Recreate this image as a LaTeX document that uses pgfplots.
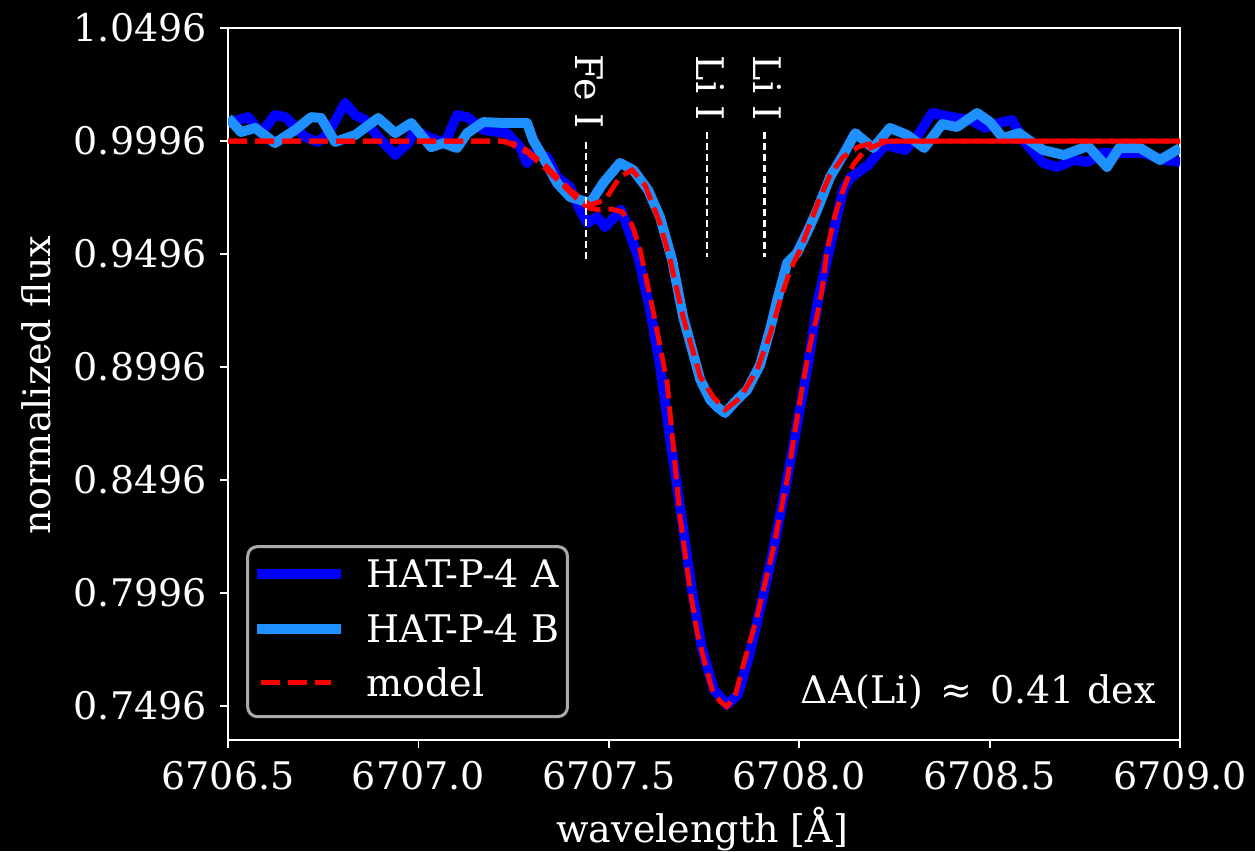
\documentclass[border=0pt]{standalone}
\usepackage{pgfplots}
\pgfplotsset{compat=1.18}
\usepackage{fontspec}
\setmainfont{DejaVu Serif}
\definecolor{specA}{RGB}{0,0,255}
\definecolor{specB}{RGB}{30,144,255}
\definecolor{modred}{RGB}{255,0,0}
\definecolor{legedge}{RGB}{170,170,170}
\pgfplotsset{
  lineimage/.style={legend image code/.code={\draw[##1] (0pt,0.8pt) -- (22pt,0.8pt);}},
  dashimage/.style={legend image code/.code={\path (0pt,0.8pt) (22pt,0.8pt); \draw[##1] (1pt,0.8pt) -- (19.3pt,0.8pt);}},
}
\begin{document}
\begin{tikzpicture}
\path[use as bounding box, fill=black] (-60pt,-29.2pt) rectangle (270.1pt,194.7pt);
\begin{axis}[
  at={(0pt,0pt)}, anchor=south west,
  scale only axis, width=250.4pt, height=187.3pt,
  xmin=6706.5, xmax=6709.0, ymin=0.7343, ymax=1.0496,
  xtick={6706.5,6707.0,6707.5,6708.0,6708.5,6709.0},
  xticklabels={6706.5,6707.0,6707.5,6708.0,6708.5,6709.0},
  ytick={0.7496,0.7996,0.8496,0.8996,0.9496,0.9996,1.0496},
  yticklabels={0.7496,0.7996,0.8496,0.8996,0.9496,0.9996,1.0496},
  scaled x ticks=false, scaled y ticks=false,
  /pgf/number format/assume math mode=true,
  xtick pos=bottom, ytick pos=left,
  tick align=outside, major tick length=2.1pt,
  axis line style={white, line width=0.5pt},
  tick style={white, line width=0.5pt},
  ticklabel style={white, font=\fontsize{10}{12}\selectfont},
  label style={white, font=\fontsize{10}{12}\selectfont},
  xlabel={wavelength [Å]},
  ylabel={normalized flux},
  xlabel style={at={(axis description cs:0.498,-0.1433)}, anchor=base},
  ylabel style={at={(axis description cs:-0.187,0.4986)}, anchor=base},
  clip mode=individual,
  legend cell align=left,
  legend style={
    at={(axis description cs:0.019,0.031)}, anchor=south west,
    fill=black, draw=legedge, line width=0.8pt, rounded corners=2.5pt,
    text=white, font=\fontsize{10}{12}\selectfont,
    inner xsep=1.2pt, inner ysep=2.3pt, row sep=2.8pt,
    nodes={inner sep=1pt, text height=7.5pt, text depth=2pt},
    /tikz/every odd column/.append style={column sep=4.5pt},
  },
  lineimage,
]
% observed spectrum, HAT-P-4 A
\addplot[specA, line width=2.6pt, line join=round] coordinates {
(6706.500,1.0076) (6706.553,1.0102) (6706.587,1.0031) (6706.623,1.0111) (6706.650,1.0102)
(6706.702,1.0014) (6706.736,0.9992) (6706.763,1.0031) (6706.807,1.0164) (6706.834,1.0111)
(6706.860,1.0089) (6706.894,1.0014) (6706.939,0.9934) (6706.973,0.9987) (6706.991,1.0045)
(6707.025,1.0014) (6707.070,0.9987) (6707.101,1.0111) (6707.128,1.0102) (6707.170,1.0045)
(6707.233,1.0031) (6707.267,0.9969) (6707.285,0.9899) (6707.301,0.9943) (6707.338,0.9925)
(6707.364,0.9837) (6707.398,0.9792) (6707.424,0.9691) (6707.443,0.9633) (6707.469,0.9660)
(6707.490,0.9615) (6707.532,0.9691) (6707.577,0.9483) (6707.608,0.9248) (6707.634,0.9005)
(6707.661,0.8673) (6707.692,0.8319) (6707.718,0.8009) (6707.745,0.7744) (6707.776,0.7567)
(6707.810,0.7500) (6707.839,0.7545) (6707.866,0.7700) (6707.897,0.7921) (6707.929,0.8164)
(6707.963,0.8452) (6707.994,0.8739) (6708.023,0.9005) (6708.049,0.9292) (6708.076,0.9492)
(6708.115,0.9779) (6708.133,0.9832) (6708.181,0.9890) (6708.225,0.9978) (6708.278,0.9956)
(6708.312,1.0023) (6708.349,1.0120) (6708.401,1.0102) (6708.449,1.0089) (6708.488,1.0054)
(6708.533,1.0080) (6708.559,1.0089) (6708.588,1.0000) (6708.640,0.9899) (6708.677,0.9881)
(6708.722,0.9912) (6708.758,0.9903) (6708.795,0.9943) (6708.850,0.9943) (6708.903,0.9943)
(6708.958,0.9912) (6709.000,0.9903)
};
\addlegendentry{HAT-P-4 A}
% observed spectrum, HAT-P-4 B
\addplot[specB, line width=2.6pt, line join=round] coordinates {
(6706.500,1.0098) (6706.534,1.0036) (6706.571,1.0054) (6706.623,0.9987) (6706.676,1.0045)
(6706.718,1.0102) (6706.744,1.0098) (6706.781,0.9992) (6706.834,1.0023) (6706.894,1.0098)
(6706.939,1.0031) (6706.981,1.0076) (6707.033,0.9969) (6707.065,0.9987) (6707.101,0.9965)
(6707.128,1.0031) (6707.170,1.0080) (6707.222,1.0076) (6707.285,1.0076) (6707.301,1.0000)
(6707.327,0.9925) (6707.364,0.9810) (6707.398,0.9748) (6707.451,0.9722) (6707.485,0.9810)
(6707.529,0.9899) (6707.564,0.9868) (6707.603,0.9779) (6707.634,0.9660) (6707.666,0.9469)
(6707.695,0.9217) (6707.740,0.8939) (6707.766,0.8850) (6707.787,0.8815) (6707.805,0.8792)
(6707.831,0.8841) (6707.863,0.8894) (6707.897,0.9005) (6707.923,0.9160) (6707.942,0.9292)
(6707.968,0.9456) (6707.994,0.9500) (6708.021,0.9593) (6708.047,0.9691) (6708.081,0.9837)
(6708.115,0.9934) (6708.147,1.0031) (6708.194,0.9965) (6708.238,1.0054) (6708.283,1.0023)
(6708.328,0.9965) (6708.375,1.0071) (6708.414,1.0058) (6708.467,1.0120) (6708.501,1.0080)
(6708.535,1.0009) (6708.577,1.0031) (6708.640,0.9956) (6708.695,0.9934) (6708.758,0.9974)
(6708.808,0.9881) (6708.840,0.9965) (6708.895,0.9965) (6708.947,0.9912) (6709.000,0.9965)
};
\addlegendentry{HAT-P-4 B}
% model, A
\addplot[modred, line width=1.3pt, dash pattern=on 5pt off 2.1pt, dashimage] coordinates {
(6706.500,0.9996) (6707.227,0.9996) (6707.288,0.9943) (6707.332,0.9877) (6707.374,0.9810)
(6707.411,0.9748) (6707.445,0.9700) (6707.477,0.9691) (6707.506,0.9695) (6707.535,0.9682)
(6707.561,0.9624) (6707.582,0.9514) (6707.621,0.9204) (6707.653,0.8925) (6707.687,0.8332)
(6707.713,0.8009) (6707.732,0.7819) (6707.753,0.7677) (6707.771,0.7567) (6707.792,0.7514)
(6707.810,0.7492) (6707.831,0.7536) (6707.852,0.7669) (6707.889,0.7890) (6707.931,0.8186)
(6707.968,0.8496) (6708.002,0.8850) (6708.028,0.9093) (6708.047,0.9225) (6708.060,0.9340)
(6708.073,0.9514) (6708.094,0.9669) (6708.115,0.9779) (6708.141,0.9890) (6708.173,0.9956)
(6708.231,0.9996) (6709.000,0.9996)
};
\addlegendentry{model}
% model, B
\addplot[modred, line width=1.3pt, dash pattern=on 5pt off 2.1pt, forget plot] coordinates {
(6706.500,0.9996) (6707.214,0.9996) (6707.267,0.9978) (6707.332,0.9890) (6707.398,0.9779)
(6707.451,0.9713) (6707.490,0.9735) (6707.529,0.9837) (6707.561,0.9868) (6707.595,0.9801)
(6707.634,0.9633) (6707.661,0.9469) (6707.695,0.9217) (6707.740,0.8952) (6707.774,0.8863)
(6707.805,0.8806) (6707.845,0.8859) (6707.889,0.8983) (6707.923,0.9138) (6707.950,0.9292)
(6707.976,0.9425) (6708.002,0.9514) (6708.028,0.9629) (6708.055,0.9748) (6708.081,0.9846)
(6708.115,0.9925) (6708.155,0.9970) (6708.212,0.9996) (6709.000,0.9996)
};
% line markers
\addplot[white, line width=0.7pt, dash pattern=on 1.9pt off 1pt, forget plot]
  coordinates {(6707.440,0.9992) (6707.440,0.9456)};
\addplot[white, line width=0.7pt, dash pattern=on 1.9pt off 1pt, forget plot]
  coordinates {(6707.758,1.0036) (6707.758,0.9483)};
\addplot[white, line width=0.7pt, dash pattern=on 1.9pt off 1pt, forget plot]
  coordinates {(6707.908,1.0036) (6707.908,0.9483)};
\node[white, rotate=-90, font=\fontsize{10}{12}\selectfont] at (axis cs:6707.448,1.0217) {Fe I};
\node[white, rotate=-90, font=\fontsize{10}{12}\selectfont] at (axis cs:6707.766,1.0230) {Li I};
\node[white, rotate=-90, font=\fontsize{10}{12}\selectfont] at (axis cs:6707.916,1.0230) {Li I};
\node[white, anchor=base east, inner sep=0pt, font=\fontsize{10}{12}\selectfont]
  at (axis description cs:0.975,0.052) {ΔA(Li)\hspace{4.7pt}≈\hspace{4.7pt}0.41 dex};
\end{axis}
\end{tikzpicture}
\end{document}
